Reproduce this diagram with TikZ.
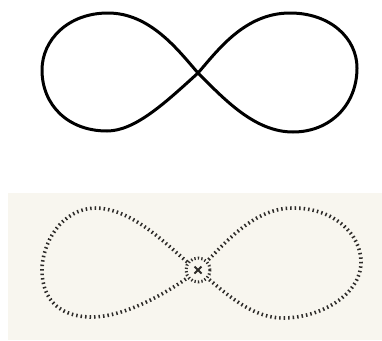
\documentclass[tikz,border=0pt]{standalone}
\usepackage{tikz}
\usetikzlibrary{arrows.meta,calc}
\definecolor{paper}{RGB}{248,246,239}
\definecolor{ink}{RGB}{45,43,41}

\begin{document}
\begin{tikzpicture}[x=1pt, y=-1pt, line join=round,
    hatch/.style={ink, line width=3.6pt, dash pattern=on 1.5pt off 3pt}]
    \useasboundingbox (0,0) rectangle (382,340);
    % top: plain figure eight
    \coordinate (c1) at (198,73);
    \draw[line width=3pt] (c1) .. controls (178,50) and (150,13) .. (108,13)
        .. controls (68,13) and (42,40) .. (42,70)
        .. controls (42,105) and (68,131) .. (107,131)
        .. controls (135,131) and (165,103) .. (c1)
        .. controls (218,50) and (245,13) .. (290,13)
        .. controls (330,13) and (357,38) .. (357,68)
        .. controls (357,105) and (330,132) .. (293,132)
        .. controls (255,132) and (225,100) .. (c1);
    % bottom: the printed one, on paper
    \fill[paper] (8,193) rectangle (382,340);
    \coordinate (c2) at (198,270);
    \begin{scope}[even odd rule]
        \clip (0,180) rectangle (382,340) (c2) circle (13);
        \draw[hatch] (c2) .. controls (178,258) and (140,210) .. (97,208)
            .. controls (60,208) and (42,245) .. (42,270)
            .. controls (42,300) and (60,317) .. (92,317)
            .. controls (125,317) and (170,292) .. (c2)
            .. controls (220,250) and (250,208) .. (293,208)
            .. controls (335,208) and (361,235) .. (361,262)
            .. controls (361,295) and (320,318) .. (283,318)
            .. controls (250,318) and (222,290) .. (c2);
    \end{scope}
    \draw[ink, line width=3pt, dash pattern=on 1.3pt off 2.2pt] (c2) circle (12);
    \draw[ink, line width=2pt] ($(c2)+(-3.5,-3.5)$) -- ($(c2)+(3.5,3.5)$)
        ($(c2)+(-3.5,3.5)$) -- ($(c2)+(3.5,-3.5)$);
\end{tikzpicture}
\end{document}
